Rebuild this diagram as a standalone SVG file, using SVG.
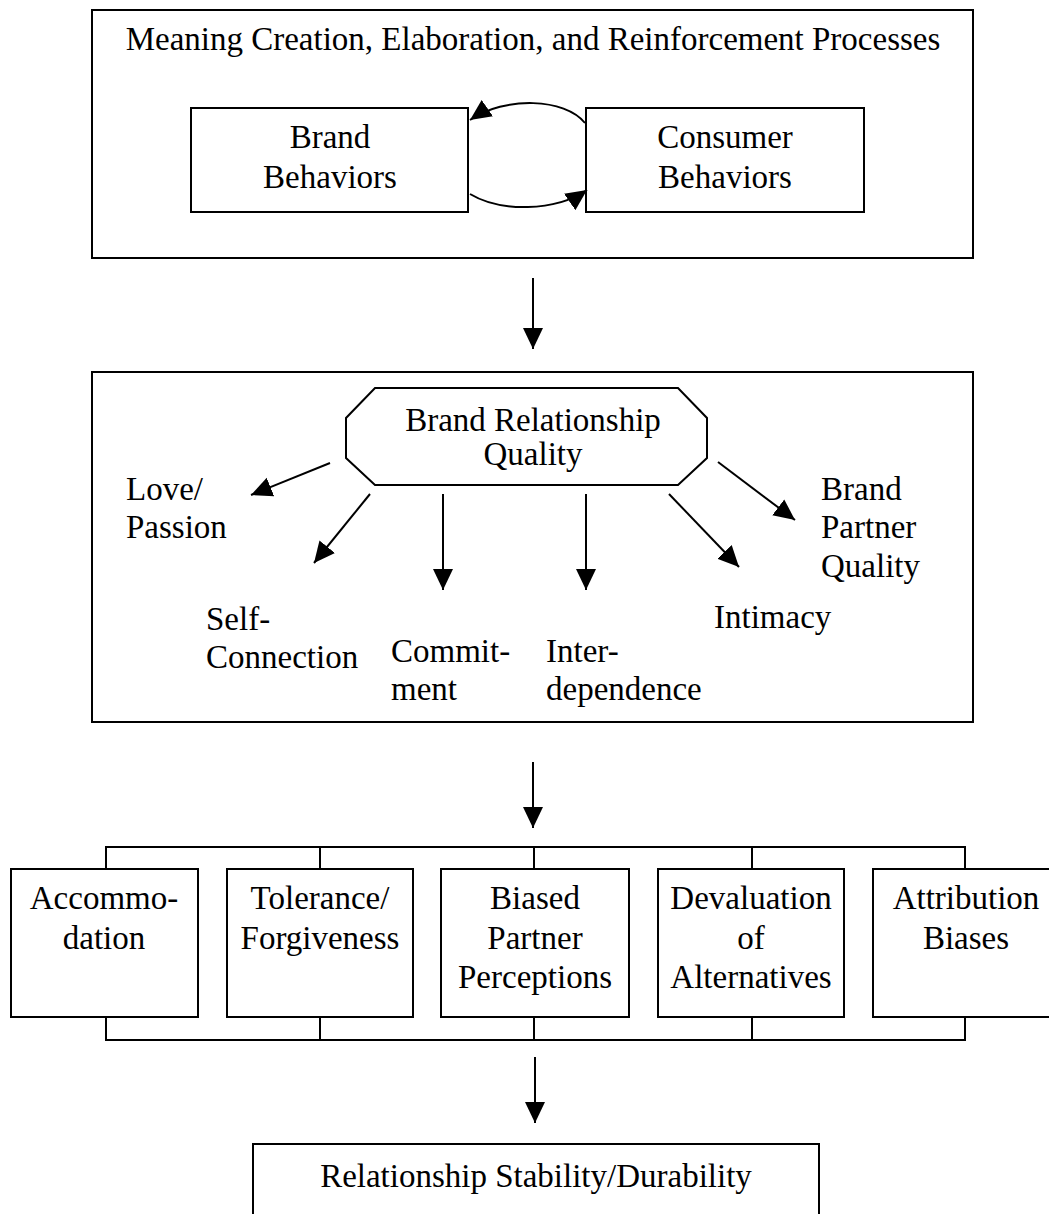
<svg xmlns="http://www.w3.org/2000/svg" width="1049" height="1214" viewBox="0 0 1049 1214">
<style>
.box{fill:#fff;stroke:#000;stroke-width:2}
.ln{fill:none;stroke:#000;stroke-width:2}
.arr{fill:none;stroke:#000;stroke-width:2;marker-end:url(#ah)}
text{font-family:"Liberation Serif","Times New Roman",serif;font-size:33px;fill:#000}
.c{text-anchor:middle}
</style>
<defs>
<marker id="ah" markerUnits="userSpaceOnUse" markerWidth="22" markerHeight="22" viewBox="0 0 22 22" refX="21" refY="11" orient="auto">
<path d="M0,1 L21,11 L0,21 Z" fill="#000"/>
</marker>
</defs>
<rect width="1049" height="1214" fill="#fff"/>

<g id="meaning-processes">
<rect class="box" x="92" y="10" width="881" height="248"/>
<text class="c" x="533" y="50">Meaning Creation, Elaboration, and Reinforcement Processes</text>
</g>
<g id="brand-behaviors">
<rect class="box" x="191" y="108" width="277" height="104"/>
<text class="c" x="330" y="148">Brand</text>
<text class="c" x="330" y="188">Behaviors</text>
</g>
<g id="consumer-behaviors">
<rect class="box" x="586" y="108" width="278" height="104"/>
<text class="c" x="725" y="148">Consumer</text>
<text class="c" x="725" y="188">Behaviors</text>
</g>

<g id="brq-panel">
<rect class="box" x="92" y="372" width="881" height="350"/>
</g>
<g id="brq">
<polygon class="box" points="375,388 678,388 707,418 707,458 678,485 375,485 346,458 346,418"/>
<text class="c" x="533" y="431">Brand Relationship</text>
<text class="c" x="533" y="465">Quality</text>
</g>
<g id="love-passion">
<text x="126" y="500">Love/</text>
<text x="126" y="538">Passion</text>
</g>
<g id="self-connection">
<text x="206" y="630">Self-</text>
<text x="206" y="668">Connection</text>
</g>
<g id="commitment">
<text x="391" y="662">Commit-</text>
<text x="391" y="700">ment</text>
</g>
<g id="interdependence">
<text x="546" y="662">Inter-</text>
<text x="546" y="700">dependence</text>
</g>
<g id="intimacy">
<text x="714" y="628">Intimacy</text>
</g>
<g id="brand-partner-quality">
<text x="821" y="500">Brand</text>
<text x="821" y="538">Partner</text>
<text x="821" y="577">Quality</text>
</g>

<g id="accommodation">
<rect class="box" x="11" y="869" width="187" height="148"/>
<text class="c" x="104" y="909">Accommo-</text>
<text class="c" x="104" y="949">dation</text>
</g>
<g id="tolerance">
<rect class="box" x="227" y="869" width="186" height="148"/>
<text class="c" x="320" y="909">Tolerance/</text>
<text class="c" x="320" y="949">Forgiveness</text>
</g>
<g id="biased">
<rect class="box" x="441" y="869" width="188" height="148"/>
<text class="c" x="535" y="909">Biased</text>
<text class="c" x="535" y="949">Partner</text>
<text class="c" x="535" y="988">Perceptions</text>
</g>
<g id="devaluation">
<rect class="box" x="658" y="869" width="186" height="148"/>
<text class="c" x="751" y="909">Devaluation</text>
<text class="c" x="751" y="949">of</text>
<text class="c" x="751" y="988">Alternatives</text>
</g>
<g id="attribution">
<rect class="box" x="873" y="869" width="190" height="148"/>
<text class="c" x="966" y="909">Attribution</text>
<text class="c" x="966" y="949">Biases</text>
</g>

<g id="stability">
<rect class="box" x="253" y="1144" width="566" height="80"/>
<text class="c" x="536" y="1187">Relationship Stability/Durability</text>
</g>

<g id="connectors">
<path class="arr" d="M585,123 C565,98 505,96 470,120"/>
<path class="arr" d="M470,194 C500,212 555,212 587,190"/>
<line class="arr" x1="533" y1="278" x2="533" y2="349"/>
<line class="arr" x1="330" y1="463" x2="251" y2="495"/>
<line class="arr" x1="370" y1="494" x2="314" y2="563"/>
<line class="arr" x1="443" y1="494" x2="443" y2="590"/>
<line class="arr" x1="586" y1="494" x2="586" y2="590"/>
<line class="arr" x1="669" y1="494" x2="739" y2="567"/>
<line class="arr" x1="718" y1="462" x2="795" y2="520"/>
<line class="arr" x1="533" y1="762" x2="533" y2="828"/>
<path class="ln" d="M106,869 V847 H965 V869 M320,847 V869 M534,847 V869 M752,847 V869"/>
<path class="ln" d="M106,1017 V1040 H965 V1017 M320,1017 V1040 M534,1017 V1040 M752,1017 V1040"/>
<line class="arr" x1="535" y1="1057" x2="535" y2="1123"/>
</g>
</svg>
